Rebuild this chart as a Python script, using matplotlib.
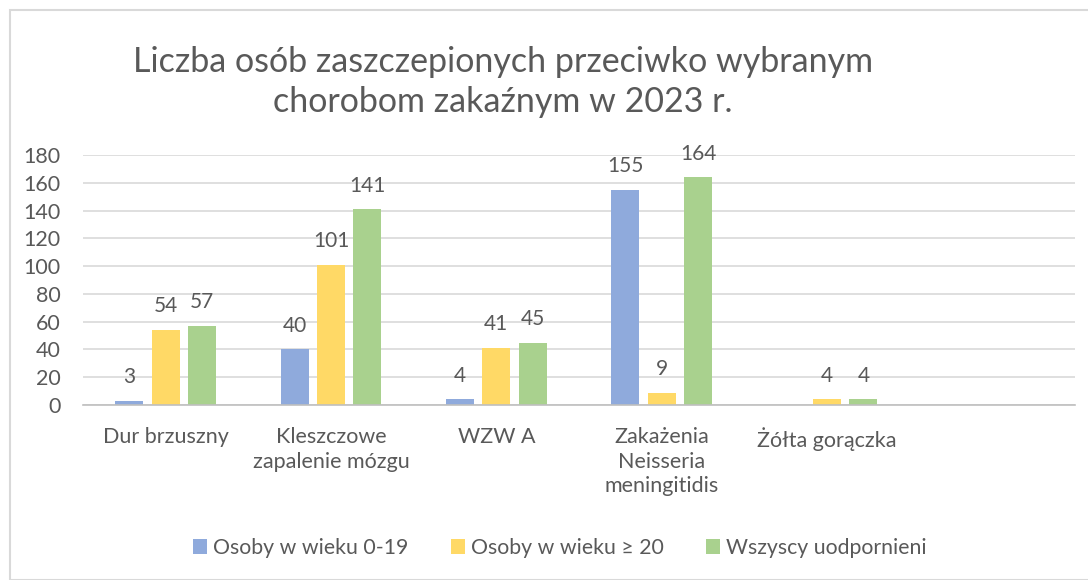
import numpy as np
import matplotlib
matplotlib.use("Agg")
import matplotlib.pyplot as plt
from matplotlib.patches import Rectangle

categories = ["Dur brzuszny", "Kleszczowe\nzapalenie mózgu", "WZW A",
              "Zakażenia\nNeisseria\nmeningitidis", "Żółta gorączka", ""]
series_names = ["Osoby w wieku 0-19", "Osoby w wieku ≥ 20", "Wszyscy uodpornieni"]
age_0_19 = [3, 40, 4, 155, None, None]
age_20 = [54, 101, 41, 9, 4, None]
all_imm = [57, 141, 45, 164, 4, None]
colors = ["#8faadc", "#ffd966", "#a9d18e"]
yticks = [0, 20, 40, 60, 80, 100, 120, 140, 160, 180]

txt = "#595959"
plt.rcParams['font.family'] = ['Lato', 'DejaVu Sans']

fig = plt.figure(figsize=(10.88, 5.80), dpi=100)
ax = fig.add_axes([83/1088, 1 - 405/580, (1075 - 83)/1088, 250/580])

x = np.arange(len(categories))
offsets = [-0.22, 0.0, 0.22]
width = 0.17
for s, (vals, c, off, name) in enumerate(zip([age_0_19, age_20, all_imm], colors, offsets, series_names)):
    xs = [xi + off for xi, v in zip(x, vals) if v is not None]
    vs = [v for v in vals if v is not None]
    bars = ax.bar(xs, vs, width=width, color=c, label=name, zorder=3)
    for b, v in zip(bars, vs):
        ax.annotate(str(v), (b.get_x() + b.get_width()/2, v), xytext=(0, 17),
                    textcoords="offset points", ha="center", va="center",
                    fontsize=15, color=txt)

ax.set_xlim(-0.5, len(categories) - 0.5)
ax.set_ylim(0, 180)
ax.set_yticks(yticks)
ax.set_xticks(x)
ax.set_xticklabels(categories, fontsize=15.5, color=txt, linespacing=1.27)
ax.tick_params(axis="y", labelsize=15.5, labelcolor=txt, length=0, pad=16)
ax.tick_params(axis="x", length=0, pad=16)
ax.grid(axis="y", color="#d9d9d9", linewidth=1.2, zorder=0)
for sp in ["top", "right", "left"]:
    ax.spines[sp].set_visible(False)
ax.spines["bottom"].set_color("#bfbfbf")
ax.spines["bottom"].set_linewidth(1.2)
ax.spines["bottom"].set_zorder(4)

fig.text(0.462, 1 - 82/580, "Liczba osób zaszczepionych przeciwko wybranym\nchorobom zakaźnym w 2023 r.",
         ha="center", va="center", fontsize=24.5, color=txt, linespacing=1.3)

handles, labels = ax.get_legend_handles_labels()
fig.legend(handles, labels, loc="center", bbox_to_anchor=(560/1088, 1 - 548/580), ncol=3,
           frameon=False, fontsize=15.3, labelcolor=txt, handlelength=0.66, handleheight=0.66,
           handletextpad=0.28, columnspacing=2.0)

fig.patches.append(Rectangle((10/1088, 0), 1.2, 1 - 10/580, transform=fig.transFigure,
                             fill=False, edgecolor="#d9d9d9", linewidth=1.5))

fig.savefig("out.png", dpi=100)
